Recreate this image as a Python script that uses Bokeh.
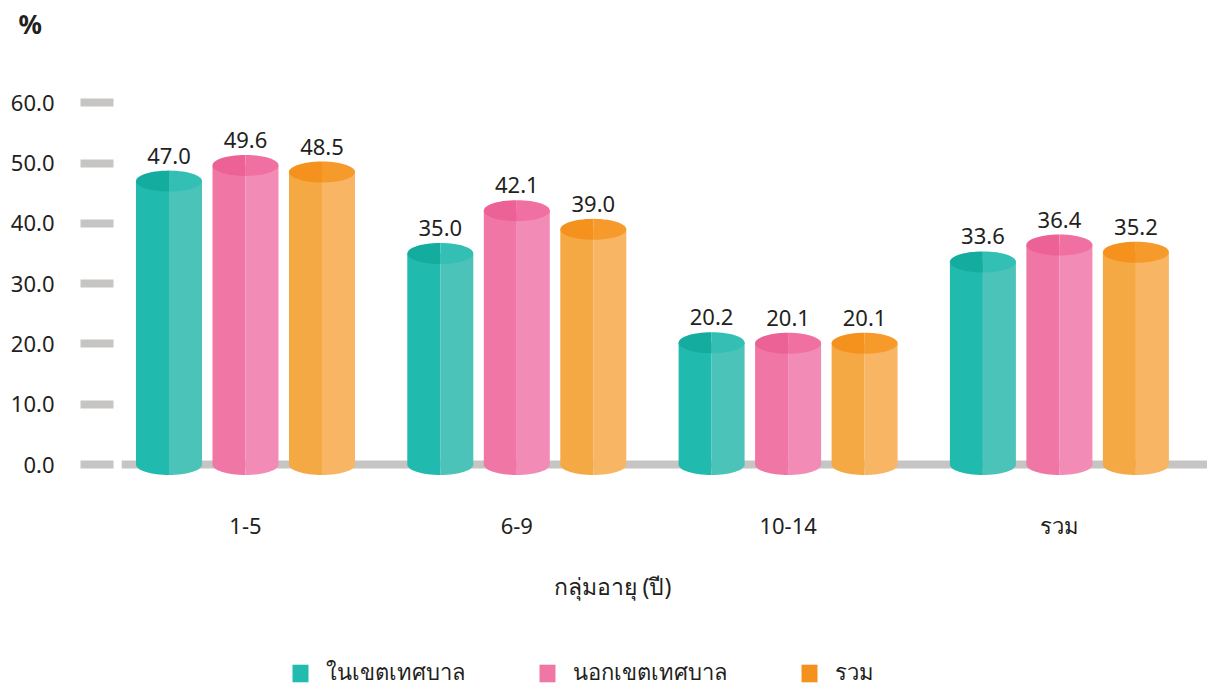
import numpy as np
from bokeh.plotting import figure
from bokeh.layouts import column
from bokeh.models import (ColumnDataSource, Legend, LegendItem, FixedTicker,
                          Range1d, Span, PrintfTickFormatter, Title)
from bokeh.embed import file_html
from bokeh.resources import INLINE
from bokeh.core.properties import value

# ---------------- data ----------------
groups = ["1-5", "6-9", "10-14", "รวม"]
series_names = ["ในเขตเทศบาล", "นอกเขตเทศบาล", "รวม"]
in_municipal = [47.0, 35.0, 20.2, 33.6]
out_municipal = [49.6, 42.1, 20.1, 36.4]
total = [48.5, 39.0, 20.1, 35.2]
y_ticks = [0, 10, 20, 30, 40, 50, 60]
x_title = "กลุ่มอายุ (ปี)"
y_unit = "%"

# ---------------- styles ----------------
FONT = "Noto Sans"
TEXT_COLOR = "#231F20"
GREY = "#C6C5C3"
palettes = [
    # body left, body right, top left, top right
    ("#21BAAE", "#4BC3B9", "#14AC9F", "#33BFB4"),
    ("#EF76A5", "#F38BB7", "#EC6196", "#F071A1"),
    ("#F5A945", "#F8B664", "#F5921E", "#F69A2B"),
]
legend_colors = ["#22BBAF", "#EF77A5", "#F5921E"]

W, H = 1207, 688
TOP_H = 44
LEG_H = 58
MAIN_H = H - TOP_H - LEG_H
# page coordinates
frame_left = 121
page_frame_top, page_frame_bottom, page_zero = 60, 480, 464.0
frame_top = page_frame_top - TOP_H
frame_bottom = page_frame_bottom - TOP_H
zero_px = page_zero - TOP_H
px_per_unit = 6.03
x_px_per_unit = 271.3
first_center_px = 245.0

y_start = -(frame_bottom - zero_px) / px_per_unit
y_end = (zero_px - frame_top) / px_per_unit
x_start = -(first_center_px - frame_left) / x_px_per_unit
x_end = x_start + (W - frame_left) / x_px_per_unit

offset = 76.5 / x_px_per_unit
half_w = 33.0 / x_px_per_unit
b_px = 10.5
b = b_px / px_per_unit   # ellipse semi-height in data units


def blank(height):
    f = figure(width=W, height=height, output_backend="svg", toolbar_location=None,
               x_range=Range1d(0, 1), y_range=Range1d(0, 1),
               x_axis_type=None, y_axis_type=None,
               min_border_left=frame_left, min_border_right=0, min_border_top=0,
               min_border_bottom=0, background_fill_color="white",
               border_fill_color="white")
    f.outline_line_color = None
    f.grid.visible = False
    return f


# ---------------- top strip: unit ----------------
t = blank(TOP_H)
t.add_layout(Title(text=y_unit, align="left", offset=-103, standoff=6,
                   vertical_align="bottom",
                   text_font=FONT, text_font_size="26px", text_font_style="bold",
                   text_color=TEXT_COLOR), "above")

# ---------------- main chart ----------------
p = figure(width=W, height=MAIN_H, output_backend="svg", toolbar_location=None,
           x_range=Range1d(x_start, x_end), y_range=Range1d(y_start, y_end),
           min_border_left=frame_left, min_border_right=0,
           min_border_top=frame_top, min_border_bottom=MAIN_H - frame_bottom,
           background_fill_color="white", border_fill_color="white")
p.outline_line_color = None
p.grid.visible = False

baseline = Span(location=0, dimension="width", line_color=GREY, line_width=8,
                level="underlay")
p.add_layout(baseline)


def arc(cx, cy, t0, t1, n=30):
    tt = np.linspace(t0, t1, n)
    return list(cx + half_w * np.cos(tt)), list(cy + b * np.sin(tt))


series_values = [in_municipal, out_municipal, total]
for s, vals in enumerate(series_values):
    bl, br, tl, tr = palettes[s]
    parts = {"bl": ([], []), "br": ([], []), "tl": ([], []), "tr": ([], [])}
    for g, v in enumerate(vals):
        cx = g + (s - 1) * offset
        ax, ay = arc(cx, 0, np.pi, 1.5 * np.pi)
        parts["bl"][0].append([cx - half_w] + ax + [cx])
        parts["bl"][1].append([v] + ay + [v])
        ax, ay = arc(cx, 0, 1.5 * np.pi, 2 * np.pi)
        parts["br"][0].append([cx] + ax + [cx + half_w])
        parts["br"][1].append([v] + ay + [v])
        ax, ay = arc(cx, v, 0.5 * np.pi, 1.5 * np.pi)
        parts["tl"][0].append(ax)
        parts["tl"][1].append(ay)
        ax, ay = arc(cx, v, -0.5 * np.pi, 0.5 * np.pi)
        parts["tr"][0].append(ax)
        parts["tr"][1].append(ay)
    p.patches(xs=parts["bl"][0], ys=parts["bl"][1], fill_color=bl, line_color=None)
    p.patches(xs=parts["br"][0], ys=parts["br"][1], fill_color=br, line_color=None)
    p.patches(xs=parts["tl"][0], ys=parts["tl"][1], fill_color=tl, line_color=None)
    p.patches(xs=parts["tr"][0], ys=parts["tr"][1], fill_color=tr, line_color=None)

    src = ColumnDataSource(dict(
        x=[g + (s - 1) * offset for g in range(len(groups))],
        y=vals,
        t=[f"{v:.1f}" for v in vals]))
    p.text(x="x", y="y", text="t", source=src, y_offset=-(b_px + 7),
           text_align="center", text_baseline="bottom",
           text_font=value(FONT), text_font_size="22px", text_color=TEXT_COLOR)

# y axis
p.yaxis.ticker = FixedTicker(ticks=y_ticks)
p.yaxis.formatter = PrintfTickFormatter(format="%.1f")
p.yaxis.axis_line_color = None
p.yaxis.minor_tick_line_color = None
p.yaxis.major_tick_line_color = GREY
p.yaxis.major_tick_line_width = 8
p.yaxis.major_tick_out = 41
p.yaxis.major_tick_in = -8
p.yaxis.major_label_standoff = 26
p.yaxis.major_label_text_font = FONT
p.yaxis.major_label_text_font_size = "22px"
p.yaxis.major_label_text_color = TEXT_COLOR

# x axis
p.xaxis.ticker = FixedTicker(ticks=list(range(len(groups))))
p.xaxis.major_label_overrides = {i: g for i, g in enumerate(groups)}
p.xaxis.axis_line_color = None
p.xaxis.major_tick_line_color = None
p.xaxis.minor_tick_line_color = None
p.xaxis.major_tick_out = 0
p.xaxis.major_tick_in = 0
p.xaxis.major_label_standoff = 29
p.xaxis.major_label_text_font = FONT
p.xaxis.major_label_text_font_size = "22px"
p.xaxis.major_label_text_color = TEXT_COLOR

# x title, centred below the groups
p.add_layout(Title(text=x_title, align="left", offset=432, standoff=50,
                   text_font=FONT, text_font_size="23px", text_font_style="normal",
                   text_color=TEXT_COLOR), "below")

# ---------------- legend strip ----------------
q = blank(LEG_H)
legend_renderers = []
for s in range(len(series_names)):
    # legend key swatch only; geometry lies outside the visible range
    r = q.patches(xs=[[2, 3, 3]], ys=[[2, 2, 3]], fill_color=legend_colors[s],
                  line_color=None)
    legend_renderers.append(r)

legend = Legend(items=[LegendItem(label=n, renderers=[r])
                       for n, r in zip(series_names, legend_renderers)],
                orientation="horizontal", location=(169, -2),
                glyph_width=20, glyph_height=22, label_standoff=16, spacing=72,
                padding=0, margin=0, border_line_color=None,
                background_fill_alpha=0, label_text_font=FONT,
                label_text_font_size="22px", label_text_color=TEXT_COLOR)
q.add_layout(legend, "center")

layout = column(t, p, q, spacing=0)
open("out.html", "w").write(file_html(layout, INLINE))
